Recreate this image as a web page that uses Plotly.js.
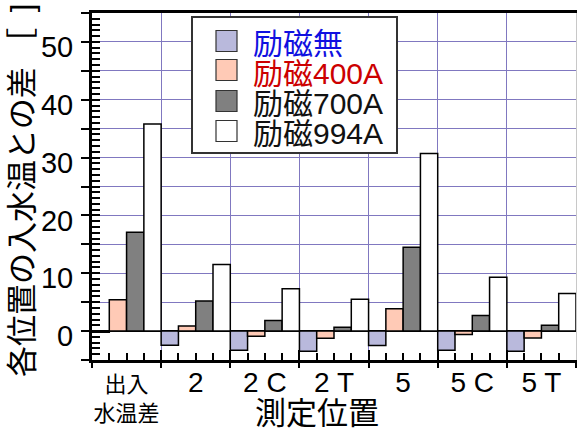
<!DOCTYPE html>
<html>
<head>
<meta charset="utf-8">
<script src="https://cdn.plot.ly/plotly-3.0.1.min.js"></script>
<style>
  html, body { margin: 0; padding: 0; background: #fff; }
  #chart { width: 578px; height: 432px; }
</style>
</head>
<body>
<div id="chart"></div>
<script>
// Measurement positions (x categories)
const categories = ['出入<br>水温差', '2', '2 C', '2 T', '5', '5 C', '5 T'];

// Difference from inlet water temperature for each excitation current
const seriesNames = ['励磁無', '励磁400A', '励磁700A', '励磁994A'];
const excitationNone = [-0.2, -2.45, -3.3, -3.5, -2.5, -3.3, -3.5];
const excitation400A = [5.4, 0.9, -0.9, -1.25, 3.85, -0.6, -1.2];
const excitation700A = [17.1, 5.2, 1.85, 0.65, 14.5, 2.7, 1.0];
const excitation994A = [35.8, 11.5, 7.3, 5.5, 30.7, 9.3, 6.5];

// Y tick labels (every 10; ticks every 5)
const yTickVals = [-5, 0, 5, 10, 15, 20, 25, 30, 35, 40, 45, 50, 55];
const yTickText = ['', '0', '', '10', '', '20', '', '30', '', '40', '', '50', ''];

const xTitle = '測定位置';
const yTitle = '各位置の入水温との差 ［\u2002]';

const fillColors = ['#b9b9dc', '#ffcab6', '#808080', '#ffffff'];
const nameColors = ['#1010e0', '#cc0000', '#111111', '#111111'];
const FONT = 'Liberation Sans, Arial, "Noto Sans CJK JP", sans-serif';
const GRID = '#8078c0';

const W = 578, H = 432;
const M = { l: 92, r: 2, t: 13, b: 72 };
const plotW = W - M.l - M.r, plotH = H - M.t - M.b;
const px = v => (v - M.l) / plotW;          // pixel x -> paper
const py = v => (H - M.b - v) / plotH;      // pixel y -> paper

const xIdx = categories.map((_, i) => i);
const allSeries = [excitationNone, excitation400A, excitation700A, excitation994A];

const traces = allSeries.map((vals, k) => ({
  type: 'bar',
  name: seriesNames[k],
  x: xIdx,
  y: vals,
  marker: { color: fillColors[k], line: { color: '#000', width: 1.5 } },
  showlegend: false,
  hoverinfo: 'skip'
}));

// empty traces that register the overlay axes used for the tick/grid styling
const blank = (xa, ya) => ({ type: 'scatter', x: [], y: [], xaxis: xa, yaxis: ya, showlegend: false, hoverinfo: 'skip' });
traces.push(blank('x2', 'y'), blank('x3', 'y'), blank('x', 'y2'), blank('x', 'y3'));

const xRange = [-0.5, categories.length - 0.5];
const boundaries = [];
for (let i = 0; i <= categories.length; i++) boundaries.push(i - 0.5);

// legend: framed box, four swatches and one block of coloured names
const legendRows = [41, 70, 101, 131];
const shapes = [{
  type: 'rect', xref: 'paper', yref: 'paper',
  x0: px(192), x1: px(397), y0: py(153), y1: py(17),
  fillcolor: '#fff', line: { color: '#333', width: 2 }
}];
legendRows.forEach((cy, k) => {
  shapes.push({
    type: 'rect', xref: 'paper', yref: 'paper',
    x0: px(216), x1: px(237), y0: py(cy + 10.5), y1: py(cy - 10.5),
    fillcolor: fillColors[k], line: { color: '#333', width: 1.2 }
  });
});
const legendText = seriesNames
  .map((n, k) => '<span style="font-size:30px;color:' + nameColors[k] + '">' + n + '</span>')
  .join('<br>');

const annotations = [{
  xref: 'paper', yref: 'paper', x: px(251), y: py(88),
  xanchor: 'left', yanchor: 'middle', align: 'left', showarrow: false,
  text: legendText, font: { family: FONT, size: 23, color: '#111' }
}, {
  // x axis title
  xref: 'paper', yref: 'paper', x: px(317), y: py(432),
  xanchor: 'center', yanchor: 'bottom', showarrow: false, borderpad: 0,
  text: xTitle, font: { family: FONT, size: 31, color: '#000' }
}, {
  // y axis title
  xref: 'paper', yref: 'paper', x: px(22), y: py(191),
  xanchor: 'center', yanchor: 'middle', showarrow: false, textangle: -90, borderpad: 0,
  text: yTitle, font: { family: FONT, size: 31, color: '#000' }
}];

const layout = {
  width: W, height: H,
  margin: M,
  paper_bgcolor: '#fff', plot_bgcolor: '#fff',
  font: { family: FONT, color: '#000' },
  barmode: 'group', bargap: 0, bargroupgap: 0,
  showlegend: false,
  xaxis: {
    range: xRange, tickmode: 'array', tickvals: xIdx,
    ticktext: categories.map((c, i) => i === 0 ? c : '<span style="font-size:28px">' + c + '</span>'),
    ticks: 'inside', ticklen: 7, tickwidth: 2, tickcolor: '#000',
    minor: { tickmode: 'linear', tick0: 0, dtick: 0.25, ticks: 'inside', ticklen: 7, tickwidth: 2, tickcolor: '#000', showgrid: false },
    showgrid: false, zeroline: false,
    showline: true, linewidth: 3, linecolor: '#000', mirror: true,
    tickfont: { family: FONT, size: 22, color: '#000' },
    ticklabelstandoff: 3,
    fixedrange: true
  },
  xaxis2: {
    overlaying: 'x', anchor: 'y', range: xRange,
    tickmode: 'array', tickvals: boundaries,
    ticks: 'outside', ticklen: 7, tickwidth: 2, tickcolor: '#000',
    showticklabels: false, showgrid: true, gridcolor: GRID, gridwidth: 1,
    zeroline: false, showline: false
  },
  xaxis3: {
    overlaying: 'x', anchor: 'y', range: xRange,
    tickmode: 'array', tickvals: boundaries,
    ticks: 'inside', ticklen: 10, tickwidth: 2, tickcolor: '#000',
    showticklabels: false, showgrid: false, zeroline: false, showline: false
  },
  yaxis: {
    range: [-5, 55], tickmode: 'array', tickvals: yTickVals, ticktext: yTickText,
    ticks: 'inside', ticklen: 8, tickwidth: 2, tickcolor: '#000',
    minor: { tickmode: 'linear', tick0: 0, dtick: 1, ticks: 'inside', ticklen: 8, tickwidth: 2, tickcolor: '#000', showgrid: false },
    showgrid: true, gridcolor: GRID, gridwidth: 1,
    zeroline: true, zerolinecolor: '#000', zerolinewidth: 1.5,
    showline: true, linewidth: 3, linecolor: '#000',
    tickfont: { family: FONT, size: 29, color: '#000' },
    ticklabelstandoff: 10, ticklabelshift: 5,
    fixedrange: true
  },
  yaxis2: {
    overlaying: 'y', anchor: 'x', range: [-5, 55],
    tickmode: 'array', tickvals: yTickVals,
    ticks: 'outside', ticklen: 10, tickwidth: 2, tickcolor: '#000',
    showticklabels: false, showgrid: false, zeroline: false, showline: false
  },
  yaxis3: {
    overlaying: 'y', anchor: 'x', side: 'right', range: [-5, 55],
    showticklabels: false, ticks: '', showgrid: false, zeroline: false,
    showline: true, linecolor: '#c8c8c8', linewidth: 1
  },
  shapes: shapes,
  annotations: annotations
};

Plotly.newPlot('chart', traces, layout, { staticPlot: true, displayModeBar: false });
</script>
</body>
</html>
